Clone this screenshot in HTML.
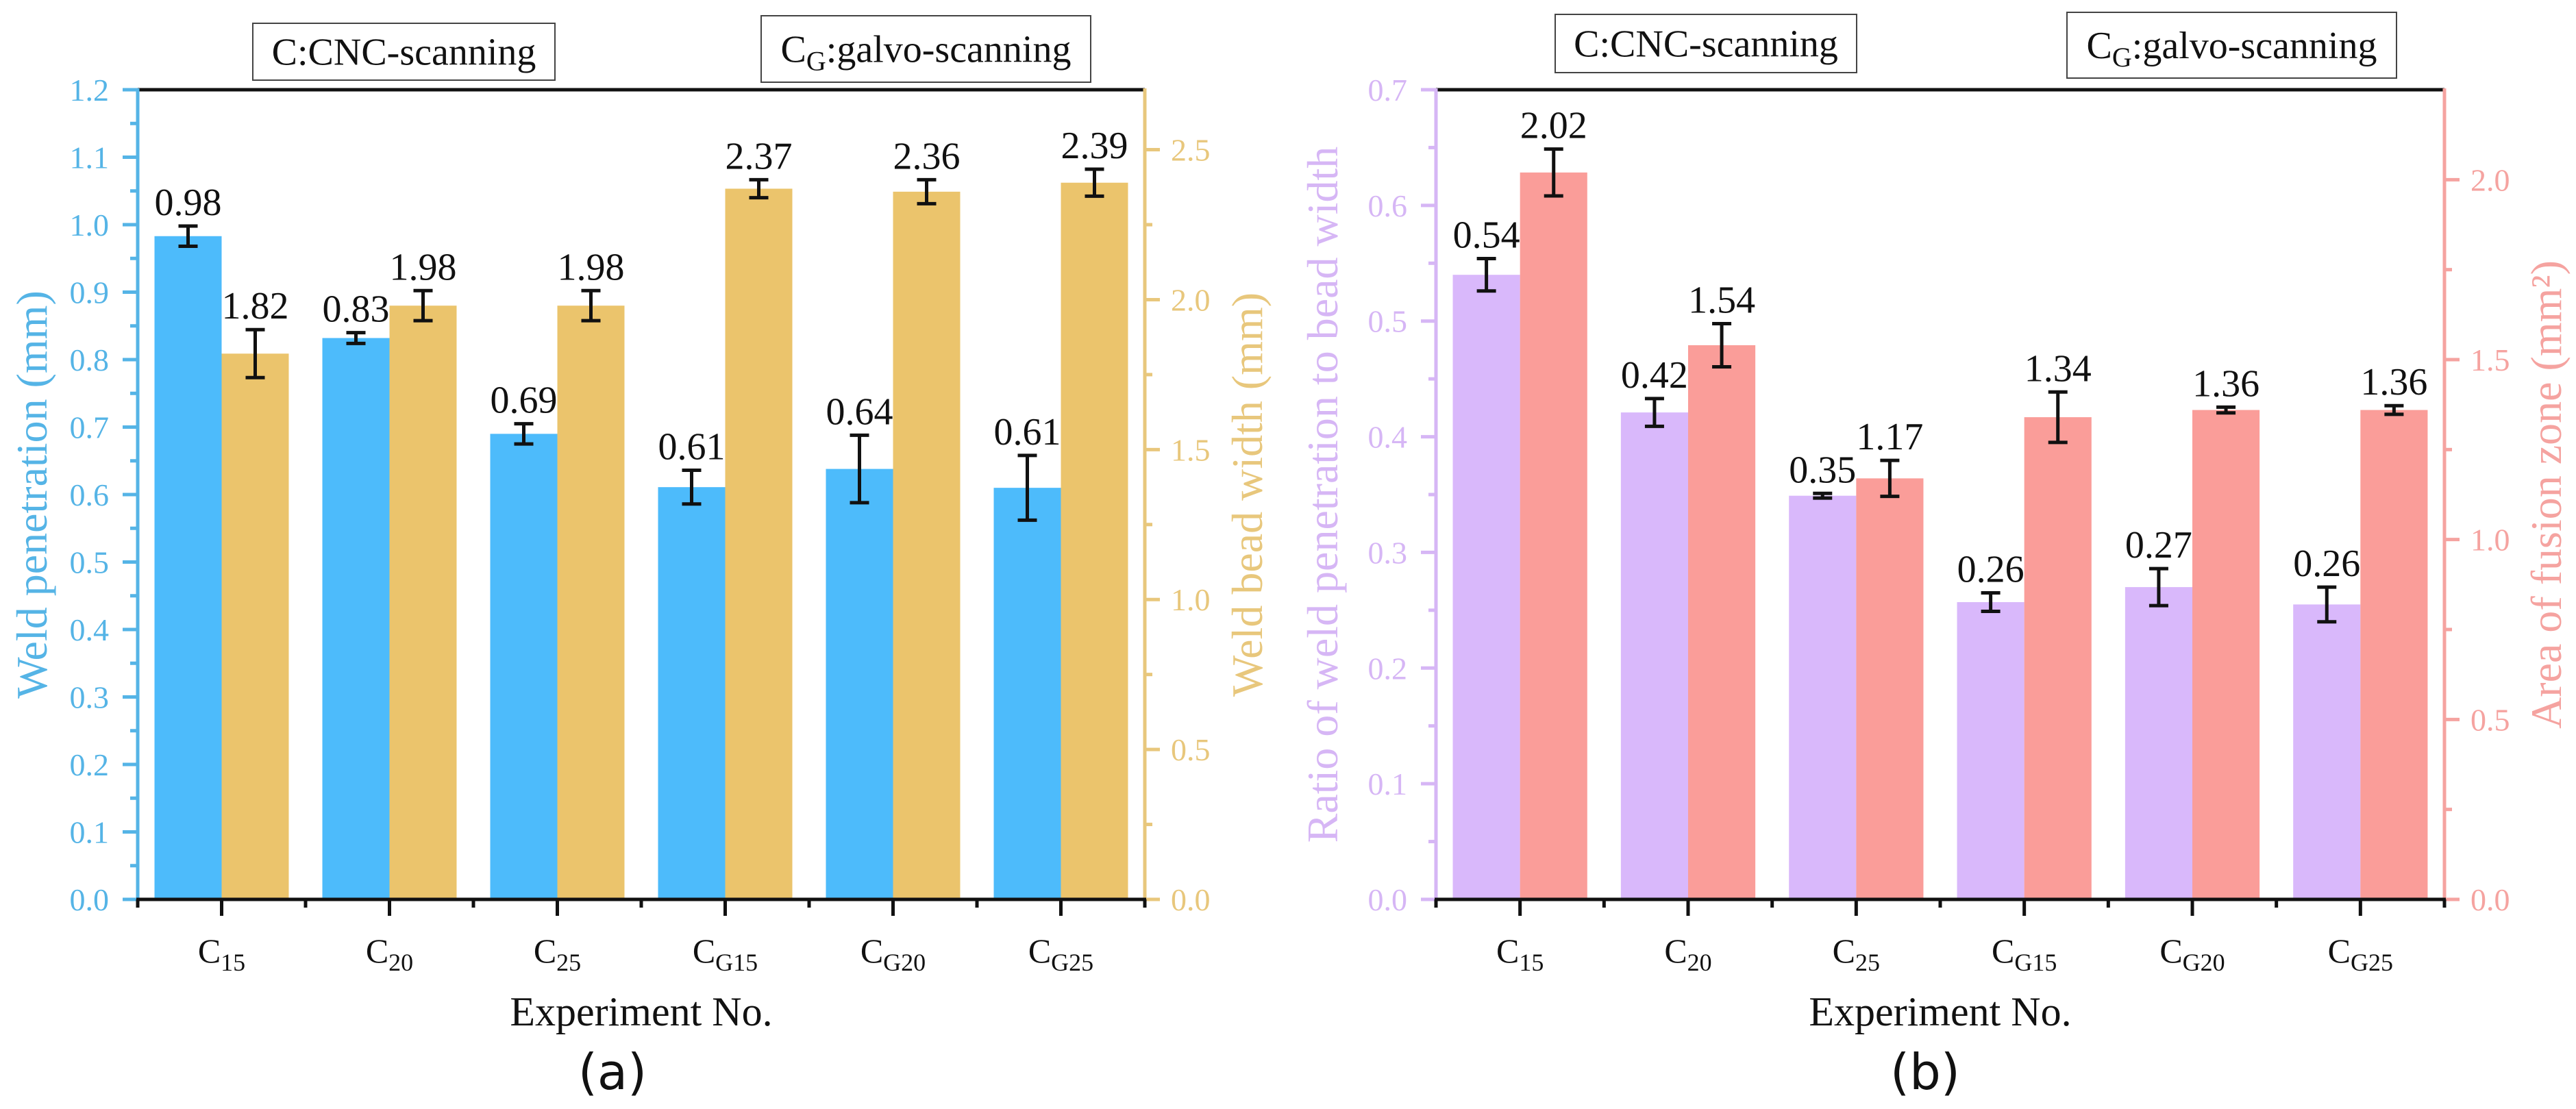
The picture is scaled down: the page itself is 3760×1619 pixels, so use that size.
<!DOCTYPE html>
<html><head><meta charset="utf-8"><style>
html,body{margin:0;padding:0;background:#fff;}
svg{display:block;}
</style></head><body>
<svg id="fig" width="3760" height="1619" viewBox="0 0 3760 1619" xmlns="http://www.w3.org/2000/svg" font-family="'Liberation Serif', serif"></svg>
<script>
const categories = ["C15","C20","C25","CG15","CG20","CG25"];
const catMain = ["C","C","C","C","C","C"];
const catSub = ["15","20","25","G15","G20","G25"];
// chart (a)
const penetration = [0.983, 0.832, 0.69, 0.611, 0.638, 0.61];
const penetrationErr = [0.015, 0.008, 0.015, 0.025, 0.05, 0.048];
const penetrationLabels = ["0.98","0.83","0.69","0.61","0.64","0.61"];
const beadWidth = [1.82, 1.98, 1.98, 2.37, 2.36, 2.39];
const beadWidthErr = [0.08, 0.05, 0.05, 0.03, 0.04, 0.045];
const beadWidthLabels = ["1.82","1.98","1.98","2.37","2.36","2.39"];
const aLeftTicks = ["0.0","0.1","0.2","0.3","0.4","0.5","0.6","0.7","0.8","0.9","1.0","1.1","1.2"];
const aRightTicks = ["0.0","0.5","1.0","1.5","2.0","2.5"];
// chart (b)
const ratio = [0.54, 0.421, 0.349, 0.257, 0.27, 0.255];
const ratioErr = [0.014, 0.012, 0.002, 0.008, 0.016, 0.015];
const ratioLabels = ["0.54","0.42","0.35","0.26","0.27","0.26"];
const area = [2.02, 1.54, 1.17, 1.34, 1.36, 1.36];
const areaErr = [0.065, 0.06, 0.05, 0.07, 0.008, 0.012];
const areaLabels = ["2.02","1.54","1.17","1.34","1.36","1.36"];
const bLeftTicks = ["0.0","0.1","0.2","0.3","0.4","0.5","0.6","0.7"];
const bRightTicks = ["0.0","0.5","1.0","1.5","2.0"];

const NS = "http://www.w3.org/2000/svg";
const svg = document.getElementById("fig");
function mk(tag, attrs, parent, text){
  const e = document.createElementNS(NS, tag);
  for (const k in attrs) e.setAttribute(k, attrs[k]);
  if (text !== undefined) e.textContent = text;
  (parent||svg).appendChild(e);
  return e;
}

function drawChart(cfg){
  const g = mk("g", {});
  
  
  const x0 = cfg.x0, x1 = cfg.x1, top = 131, base = 1313;
  const step = (x1 - x0) / categories.length;
  const bw = step * 0.4;
  const yL = v => base - v / cfg.lMax * (base - top);
  const yR = v => base - v / cfg.rMax * (base - top);
  const cx = i => x0 + step * (i + 0.5);

  categories.forEach((c, i) => {
    const b1 = mk("rect", {x: cx(i) - bw, y: yL(cfg.s1[i]), width: bw, height: base - yL(cfg.s1[i]), fill: cfg.c1}, g);
    
    
    const b2 = mk("rect", {x: cx(i), y: yR(cfg.s2[i]), width: bw, height: base - yR(cfg.s2[i]), fill: cfg.c2}, g);
    
    
  });
  function err(xc, yl, yh, name, label){
    const eg = mk("g", {stroke: "#111", "stroke-width": 5, fill: "none"}, g);
    
    
    mk("line", {x1: xc, x2: xc, y1: yl, y2: yh}, eg);
    mk("line", {x1: xc - 14, x2: xc + 14, y1: yl, y2: yl}, eg);
    mk("line", {x1: xc - 14, x2: xc + 14, y1: yh, y2: yh}, eg);
    const t = mk("text", {x: xc, y: yh - 16, "text-anchor": "middle", "font-size": 56, fill: "#111"}, g, label);
    
    
  }
  categories.forEach((c, i) => {
    err(cx(i) - bw/2, yL(cfg.s1[i] - cfg.e1[i]), yL(cfg.s1[i] + cfg.e1[i]), 'error-left-' + c.toLowerCase(), cfg.l1[i]);
    err(cx(i) + bw/2, yR(cfg.s2[i] - cfg.e2[i]), yR(cfg.s2[i] + cfg.e2[i]), 'error-right-' + c.toLowerCase(), cfg.l2[i]);
  });

  const tl = mk("line", {x1: x0, x2: x1, y1: top, y2: top, stroke: "#111", "stroke-width": 5}, g);
  
  

  const la = mk("g", {stroke: cfg.ca, "stroke-width": 5}, g);
  
  
  mk("line", {x1: x0, x2: x0, y1: top - 2, y2: base + 2}, la);
  cfg.lt.forEach((t, k) => {
    const v = parseFloat(t);
    mk("line", {x1: x0 - 22, x2: x0, y1: yL(v), y2: yL(v)}, la);
    if (k < cfg.lt.length - 1) {
      const mv = v + (parseFloat(cfg.lt[1]) - parseFloat(cfg.lt[0])) / 2;
      mk("line", {x1: x0 - 11, x2: x0, y1: yL(mv), y2: yL(mv)}, la);
    }
    const tx = mk("text", {x: x0 - 42, y: yL(v) + 16, "text-anchor": "end", "font-size": 46, fill: cfg.ca, stroke: "none"}, g, t);
    
    
  });
  const ra = mk("g", {stroke: cfg.cb, "stroke-width": 5}, g);
  
  
  mk("line", {x1: x1, x2: x1, y1: top - 2, y2: base + 2}, ra);
  cfg.rt.forEach((t) => {
    const v = parseFloat(t);
    mk("line", {x1: x1, x2: x1 + 22, y1: yR(v), y2: yR(v)}, ra);
    const mv = v + 0.25;
    if (mv < cfg.rMax) mk("line", {x1: x1, x2: x1 + 11, y1: yR(mv), y2: yR(mv)}, ra);
    const tx = mk("text", {x: x1 + 38, y: yR(v) + 16, "text-anchor": "start", "font-size": 46, fill: cfg.cb, stroke: "none"}, g, t);
    
    
  });
  const xa = mk("g", {stroke: "#111", "stroke-width": 5}, g);
  
  
  mk("line", {x1: x0 - 2, x2: x1 + 2, y1: base, y2: base}, xa);
  for (let i = 0; i <= categories.length; i++) {
    const xb = x0 + step * i;
    mk("line", {x1: xb, x2: xb, y1: base, y2: base + 12}, xa);
  }
  categories.forEach((c, i) => {
    mk("line", {x1: cx(i), x2: cx(i), y1: base, y2: base + 24}, xa);
    const t = mk("text", {x: cx(i), y: base + 92, "text-anchor": "middle", "font-size": 50, fill: "#111"}, g);
    
    
    mk("tspan", {}, t, catMain[i]);
    mk("tspan", {dy: 12, "font-size": 36}, t, catSub[i]);
  });
  const xt = mk("text", {x: (x0 + x1) / 2, y: 1497, "text-anchor": "middle", "font-size": 60, fill: "#111"}, g, "Experiment No.");
  
  
  const pl = mk("text", {x: cfg.panelX, y: 1590, "text-anchor": "middle", "font-size": 72, fill: "#111", "font-family": "'DejaVu Sans', sans-serif"}, g, cfg.panel);
  
  
  const lt = mk("text", {x: 0, y: 0, "text-anchor": "middle", "font-size": 64, fill: cfg.ca, transform: `translate(${cfg.ltX},${(top + base) / 2}) rotate(-90)`}, g, cfg.lTitle);
  
  
  const rtt = mk("text", {x: 0, y: 0, "text-anchor": "middle", "font-size": 64, fill: cfg.cb, transform: `translate(${cfg.rtX},${(top + base) / 2}) rotate(-90)`}, g);
  
  
  rtt.textContent = cfg.rTitle;
  function box(bx, by, w, h, name, main, sub, rest){
    const bg = mk("g", {}, g);
    
    
    mk("rect", {x: bx, y: by, width: w, height: h, fill: "#fff", stroke: "#444", "stroke-width": 2}, bg);
    const t = mk("text", {x: bx + w / 2, y: by + h / 2 + 19, "text-anchor": "middle", "font-size": 56, fill: "#111"}, bg);
    mk("tspan", {}, t, main);
    if (sub) { mk("tspan", {dy: 12, "font-size": 40}, t, sub); mk("tspan", {dy: -12}, t, rest); }
  }
  box(cfg.b1[0], cfg.b1[1], cfg.b1[2], cfg.b1[3], 'cnc-scanning-note', "C:CNC-scanning");
  box(cfg.b2[0], cfg.b2[1], cfg.b2[2], cfg.b2[3], 'galvo-scanning-note', "C", "G", ":galvo-scanning");
}

drawChart({name: "chart-a", x0: 201, x1: 1671, lMax: 1.2, rMax: 2.7,
  s1: penetration, e1: penetrationErr, l1: penetrationLabels,
  s2: beadWidth, e2: beadWidthErr, l2: beadWidthLabels,
  c1: "#4dbbfb", c2: "#ebc46c", ca: "#55b4e6", cb: "#e8c77c",
  lt: aLeftTicks, rt: aRightTicks, ltX: 68, rtX: 1842,
  lTitle: "Weld penetration (mm)", rTitle: "Weld bead width (mm)",
  panel: "(a)", panelX: 894,
  b1: [369, 34, 441, 83], b2: [1111, 23, 481, 97]});

drawChart({name: "chart-b", x0: 2096, x1: 3568, lMax: 0.7, rMax: 2.25,
  s1: ratio, e1: ratioErr, l1: ratioLabels,
  s2: area, e2: areaErr, l2: areaLabels,
  c1: "#d9b8fb", c2: "#fa9d99", ca: "#d6b6f5", cb: "#f5a3a0",
  lt: bLeftTicks, rt: bRightTicks, ltX: 1952, rtX: 3738,
  lTitle: "Ratio of weld penetration to bead width", rTitle: "Area of fusion zone (mm²)",
  panel: "(b)", panelX: 2810,
  b1: [2270, 21, 440, 85], b2: [3017, 18, 481, 96]});
</script>
</body></html>
